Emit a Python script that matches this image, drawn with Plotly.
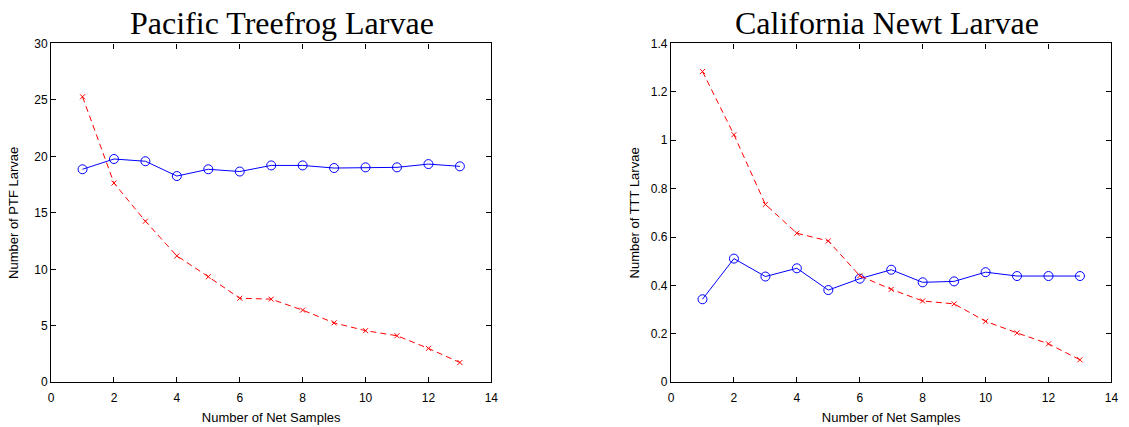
import plotly.graph_objects as go

# Number of net samples pooled
samples = list(range(1, 14))

# Pacific treefrog (PTF) larvae
ptf_mean = [18.86, 19.77, 19.57, 18.26, 18.86, 18.66, 19.20, 19.20, 18.97, 19.03, 19.03, 19.32, 19.12]
ptf_cv = [25.28, 17.64, 14.26, 11.19, 9.35, 7.44, 7.36, 6.39, 5.26, 4.57, 4.12, 3.00, 1.75]

# California newt (TTT) larvae
ttt_mean = [0.343, 0.511, 0.437, 0.471, 0.381, 0.428, 0.465, 0.413, 0.417, 0.455, 0.439, 0.439, 0.439]
ttt_cv = [1.284, 1.023, 0.735, 0.616, 0.584, 0.440, 0.384, 0.336, 0.324, 0.252, 0.204, 0.159, 0.093]

titles = ["Pacific Treefrog Larvae", "California Newt Larvae"]
ylabels = ["Number of PTF Larvae", "Number of TTT Larvae"]
xlabel = "Number of Net Samples"

BLUE = "#0000ff"
RED = "#ff0000"
W, H = 1129, 427

fig = go.Figure()

panels = [
    ("x", "y", ptf_mean, ptf_cv),
    ("x2", "y2", ttt_mean, ttt_cv),
]
for xa, ya, mean_vals, cv_vals in panels:
    fig.add_trace(go.Scatter(
        x=samples, y=mean_vals, xaxis=xa, yaxis=ya, mode="lines+markers",
        line=dict(color=BLUE, width=1),
        marker=dict(symbol="circle-open", size=9, color=BLUE, line=dict(width=1, color=BLUE)),
        showlegend=False, hoverinfo="x+y",
    ))
    fig.add_trace(go.Scatter(
        x=samples, y=cv_vals, xaxis=xa, yaxis=ya, mode="lines+markers",
        line=dict(color=RED, width=1, dash="6px,4px"),
        marker=dict(symbol="x-thin-open", size=5, color=RED, line=dict(width=1, color=RED)),
        showlegend=False, hoverinfo="x+y",
    ))

tick_font = dict(family="Liberation Sans, Arial, sans-serif", size=12, color="#000000")
label_font = dict(family="Liberation Sans, Arial, sans-serif", size=13, color="#000000")
common = dict(
    showline=True, linecolor="#000000", linewidth=1.2, mirror="allticks",
    ticks="inside", ticklen=5, tickcolor="#000000", tickwidth=1,
    showgrid=False, zeroline=False, tickfont=tick_font, fixedrange=True,
)
xcommon = dict(range=[0, 14], dtick=2, tick0=0, ticklabelstandoff=4,
               title=dict(text=xlabel, font=label_font, standoff=9), **common)

left_dom = [48.5 / W, 492.7 / W]
right_dom = [674 / W, 1118.3 / W]
y_dom = [(H - 388) / H, (H - 37.7) / H]

fig.update_layout(
    width=W, height=H,
    margin=dict(l=0, r=0, t=0, b=0),
    paper_bgcolor="#ffffff", plot_bgcolor="#ffffff",
    xaxis=dict(domain=left_dom, anchor="y", **xcommon),
    yaxis=dict(domain=y_dom, range=[0, 30], dtick=5, tick0=0, anchor="x",
               title=dict(text=ylabels[0], font=label_font, standoff=12), **common),
    xaxis2=dict(domain=right_dom, anchor="y2", **xcommon),
    yaxis2=dict(domain=y_dom, range=[0, 1.4], dtick=0.2, tick0=0, anchor="x2",
                title=dict(text=ylabels[1], font=label_font, standoff=8), **common),
)

title_font = dict(family="Liberation Serif, Times New Roman, serif", size=32, color="#000000")
for cx, text in zip([281 / W, 892 / W], titles):
    fig.add_annotation(
        x=cx, y=(H - 17) / H, xref="paper", yref="paper",
        xanchor="center", yanchor="middle", text=text, showarrow=False, font=title_font,
    )

fig.write_html("out.html")
